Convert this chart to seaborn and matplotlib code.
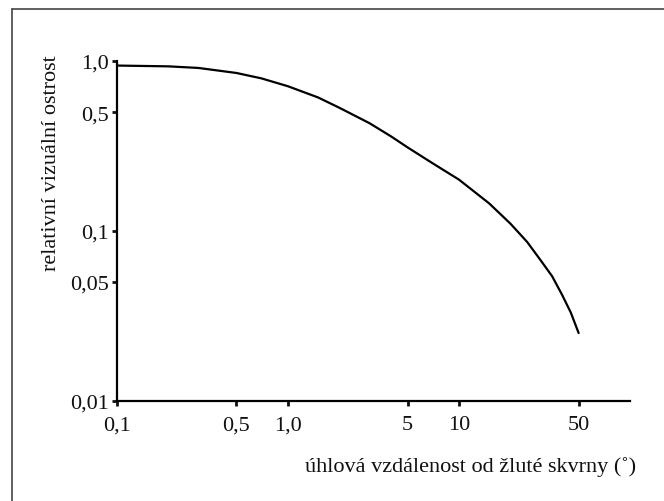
import matplotlib
matplotlib.use("Agg")
import matplotlib.pyplot as plt
from matplotlib.lines import Line2D
import seaborn as sns
import pandas as pd

# Relative visual acuity vs. angular distance from the fovea (log-log)
eccentricity = [0.1, 0.2, 0.3, 0.5, 0.7, 1.0, 1.5, 2.0, 3.0, 4.0, 5.0, 7.0, 10, 15, 20, 25, 30, 35, 40, 45, 50]
acuity = [0.94, 0.93, 0.91, 0.85, 0.79, 0.71, 0.61, 0.53, 0.43, 0.36, 0.31, 0.25, 0.20, 0.145, 0.11, 0.086, 0.067, 0.054, 0.042, 0.033, 0.025]

x_ticks = [0.1, 0.5, 1.0, 5, 10, 50]
x_tick_labels = ["0,1", "0,5", "1,0", "5", "10", "50"]
y_ticks = [0.01, 0.05, 0.1, 0.5, 1.0]
y_tick_labels = ["0,01", "0,05", "0,1", "0,5", "1,0"]

x_title = "úhlová vzdálenost od žluté skvrny (˚)"
y_title = "relativní vizuální ostrost"

sns.set_style("ticks")
plt.rcParams["font.family"] = ["Liberation Serif", "DejaVu Serif"]

df = pd.DataFrame({"eccentricity": eccentricity, "acuity": acuity})

fig = plt.figure(figsize=(6.64, 5.02), dpi=100)
ax = fig.add_axes([0.176, 0.2, 0.773, 0.6765])

sns.lineplot(data=df, x="eccentricity", y="acuity", ax=ax,
             color="black", linewidth=1.6, sort=True)

ax.set_xscale("log")
ax.set_yscale("log")
ax.set_xlim(0.1, 100)
ax.set_ylim(0.01, 1.0)

ax.set_xticks(x_ticks)
ax.set_xticklabels(x_tick_labels)
ax.set_yticks(y_ticks)
ax.set_yticklabels(y_tick_labels)
ax.minorticks_off()

ax.tick_params(axis="both", direction="out", length=3.5, width=2,
               labelsize=16, colors="#111111")
ax.tick_params(axis="x", pad=7)
ax.tick_params(axis="y", pad=2)

for side in ("top", "right"):
    ax.spines[side].set_visible(False)
for side in ("left", "bottom"):
    ax.spines[side].set_linewidth(1.6)
    ax.spines[side].set_color("black")

ax.set_xlabel("")
ax.set_ylabel("")

# Axis titles: y title rotated and aligned to the top of the axis,
# x title right-aligned under the axis
fig.text(52 / 664, 1 - 55 / 502, y_title, rotation=90, ha="center", va="top",
         fontsize=16, color="#111111")
fig.text(636 / 664, 1 - 467 / 502, x_title, ha="right", va="center",
         fontsize=16, color="#111111")

# Frame around the figure
fig.add_artist(Line2D([12 / 664, 12 / 664], [1 - 10 / 502, 0], color="#444444",
                      linewidth=1.2, transform=fig.transFigure))
fig.add_artist(Line2D([12 / 664, 1], [1 - 10 / 502, 1 - 10 / 502], color="#444444",
                      linewidth=1.2, transform=fig.transFigure))

fig.savefig("out.png", dpi=100, facecolor="white")
